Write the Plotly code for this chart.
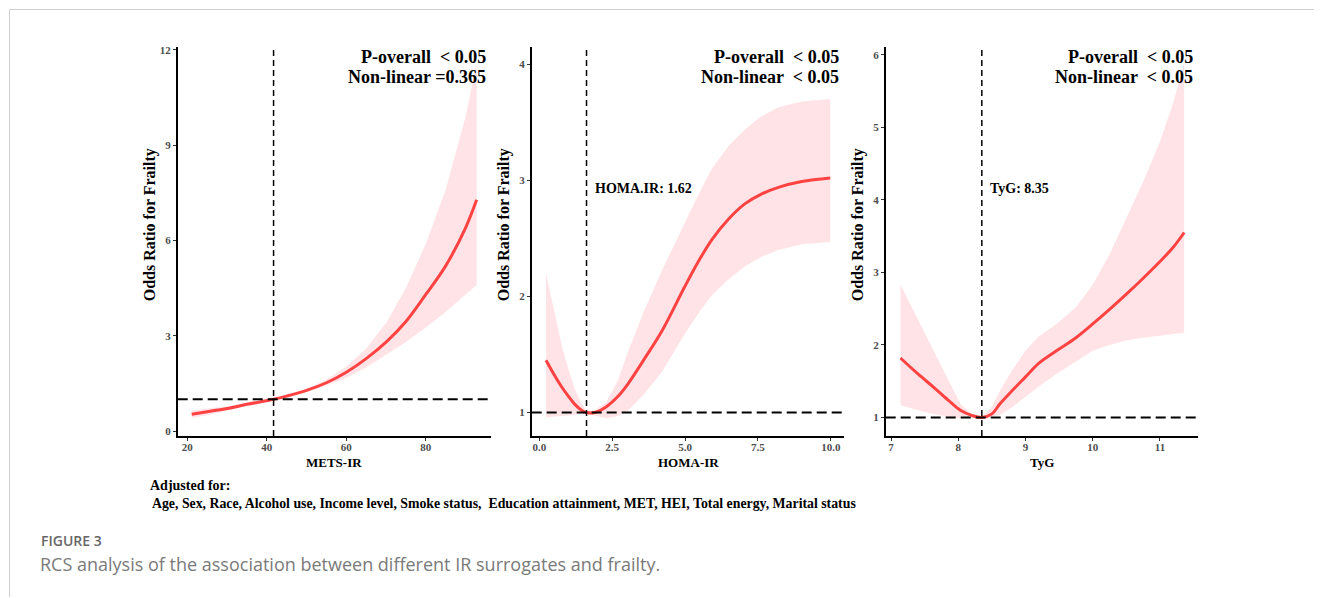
import plotly.graph_objects as go

# the page body has an 8px margin; the figure is sized so it ends at the window edge
OFF = 8
W, H = 1322 - OFF, 598 - OFF

# ---------------- data ----------------
mets_x = [21.1, 25, 30, 35, 41.7, 45, 50, 55, 60, 65, 70, 75, 80, 85, 90, 92.8]
mets_or = [0.53, 0.61, 0.71, 0.84, 1.0, 1.1, 1.28, 1.52, 1.85, 2.28, 2.8, 3.45, 4.3, 5.2, 6.4, 7.28]
mets_hi = [0.65, 0.70, 0.78, 0.88, 1.01, 1.12, 1.33, 1.62, 2.02, 2.6, 3.4, 4.5, 5.9, 7.6, 9.9, 11.6]
mets_lo = [0.42, 0.50, 0.63, 0.79, 0.99, 1.08, 1.23, 1.43, 1.68, 2.0, 2.4, 2.8, 3.26, 3.75, 4.3, 4.6]

homa_x = [0.23, 0.5, 0.77, 1.0, 1.22, 1.45, 1.62, 1.9, 2.3, 2.7, 3.05, 3.6, 4.2, 5.0, 5.5, 5.92, 6.5, 7.06, 7.6, 8.2, 9.0, 9.98]
homa_or = [1.45, 1.33, 1.22, 1.14, 1.07, 1.02, 1.0, 1.0, 1.05, 1.14, 1.25, 1.46, 1.70, 2.09, 2.32, 2.49, 2.67, 2.80, 2.88, 2.94, 2.99, 3.02]
homa_hi = [2.20, 1.88, 1.58, 1.37, 1.20, 1.08, 1.01, 1.02, 1.09, 1.28, 1.53, 1.88, 2.22, 2.64, 2.90, 3.10, 3.30, 3.44, 3.55, 3.63, 3.68, 3.70]
homa_lo = [0.96, 0.965, 0.97, 0.975, 0.98, 0.99, 0.99, 0.97, 0.95, 0.97, 1.02, 1.16, 1.35, 1.68, 1.87, 2.01, 2.15, 2.26, 2.34, 2.40, 2.45, 2.47]

tyg_x = [7.14, 7.4, 7.63, 7.85, 8.03, 8.2, 8.35, 8.5, 8.62, 8.8, 9.0, 9.2, 9.46, 9.75, 10.0, 10.25, 10.5, 10.75, 11.0, 11.2, 11.36]
tyg_or = [1.82, 1.60, 1.42, 1.24, 1.10, 1.03, 1.0, 1.05, 1.19, 1.37, 1.56, 1.75, 1.92, 2.10, 2.29, 2.49, 2.70, 2.92, 3.15, 3.35, 3.55]
tyg_hi = [2.83, 2.35, 1.92, 1.50, 1.19, 1.05, 1.0, 1.15, 1.37, 1.65, 1.92, 2.12, 2.29, 2.52, 2.83, 3.25, 3.74, 4.25, 4.80, 5.35, 5.89]
tyg_lo = [1.17, 1.10, 1.05, 1.01, 0.99, 0.99, 1.0, 1.01, 1.04, 1.14, 1.28, 1.43, 1.60, 1.77, 1.92, 2.00, 2.06, 2.10, 2.13, 2.15, 2.17]

x_titles = ["METS-IR", "HOMA-IR", "TyG"]
ref_values = [41.7, 1.62, 8.35]
ref_labels = [None, "HOMA.IR: 1.62", "TyG: 8.35"]
p_overall = ["P-overall  < 0.05", "P-overall  < 0.05", "P-overall  < 0.05"]
p_nonlinear = ["Non-linear =0.365", "Non-linear  < 0.05", "Non-linear  < 0.05"]

y_ticks = [[0, 3, 6, 9, 12], [1, 2, 3, 4], [1, 2, 3, 4, 5, 6]]
x_ticks = [[20, 40, 60, 80], [0, 2.5, 5, 7.5, 10], [7, 8, 9, 10, 11]]
x_ticklabels = [["20", "40", "60", "80"], ["0.0", "2.5", "5.0", "7.5", "10.0"], ["7", "8", "9", "10", "11"]]
y_ranges = [[-0.16, 12.1], [0.797, 4.151], [0.744, 6.11]]
x_ranges = [[17.58, 96.4], [-0.26, 10.46], [6.92, 11.57]]

adjusted_title = "Adjusted for:"
adjusted_text = "Age, Sex, Race, Alcohol use, Income level, Smoke status,  Education attainment, MET, HEI, Total energy, Marital status"
fig_label = "FIGURE 3"
fig_caption = "RCS analysis of the association between different IR surrogates and frailty."

series = [(mets_x, mets_or, mets_hi, mets_lo), (homa_x, homa_or, homa_hi, homa_lo), (tyg_x, tyg_or, tyg_hi, tyg_lo)]

# ---------------- layout geometry (window pixels) ----------------
panels_px = [(177.7, 491.0), (531.7, 844.3), (885.7, 1198.3)]
top_px, bot_px = 44, 436


def px(x):
    return (x - OFF) / W


def py(y):
    return 1 - (y - OFF) / H


SERIF = "Liberation Serif"
LINE_RED = "#FF4242"
BAND = "#FFE3E6"

fig = go.Figure()
layout_axes = {}
shapes = []
annotations = []

for i, (xs, ors, his, los) in enumerate(series):
    n = "" if i == 0 else str(i + 1)
    xa, ya = "x" + n, "y" + n
    fig.add_trace(go.Scatter(x=xs + xs[::-1], y=his + los[::-1], fill="toself", fillcolor=BAND,
                             line=dict(width=0), mode="lines", hoverinfo="skip", xaxis=xa, yaxis=ya,
                             showlegend=False))
    fig.add_trace(go.Scatter(x=xs, y=ors, mode="lines", line=dict(color=LINE_RED, width=3, shape="spline"),
                             xaxis=xa, yaxis=ya, showlegend=False))
    l, r = panels_px[i]
    common = dict(showline=True, linecolor="black", linewidth=1.5, ticks="outside", ticklen=3,
                  tickcolor="#333333", tickwidth=1, showgrid=False, zeroline=False,
                  tickfont=dict(family=SERIF, size=11, color="#4D4D4D", weight="bold"))
    layout_axes["xaxis" + n] = dict(domain=[px(l), px(r)], anchor=ya, range=x_ranges[i],
                                    tickvals=x_ticks[i], ticktext=x_ticklabels[i],
                                    ticklabelstandoff=-3, **common)
    layout_axes["yaxis" + n] = dict(domain=[py(bot_px), py(top_px)], anchor=xa, range=y_ranges[i],
                                    tickvals=y_ticks[i], **common)
    # reference lines
    shapes.append(dict(type="line", xref=xa + " domain", yref=ya, x0=0, x1=1, y0=1, y1=1,
                       line=dict(color="black", width=2, dash="10px,5px"), layer="above"))
    shapes.append(dict(type="line", xref=xa, yref=ya + " domain", x0=ref_values[i], x1=ref_values[i],
                       y0=0, y1=1, line=dict(color="black", width=1.5, dash="6px,4px"), layer="above"))
    # p texts
    right = r - 3
    annotations.append(dict(xref="paper", yref="paper", x=px(right), y=py(54), xanchor="right",
                            yanchor="middle", text=p_overall[i], showarrow=False,
                            font=dict(family=SERIF, size=18, color="black", weight="bold")))
    annotations.append(dict(xref="paper", yref="paper", x=px(right), y=py(74), xanchor="right",
                            yanchor="middle", text=p_nonlinear[i], showarrow=False,
                            font=dict(family=SERIF, size=18, color="black", weight="bold")))
    if ref_labels[i]:
        annotations.append(dict(xref=xa, yref="paper", x=ref_values[i], xshift=6, y=py(187), xanchor="left",
                                yanchor="middle", text=ref_labels[i], showarrow=False,
                                font=dict(family=SERIF, size=14, color="black", weight="bold")))
    # axis titles
    annotations.append(dict(xref="paper", yref="paper", x=px((l + r) / 2), y=py(463), xanchor="center",
                            yanchor="middle", text=x_titles[i], showarrow=False,
                            font=dict(family=SERIF, size=13, color="black", weight="bold")))
    annotations.append(dict(xref="paper", yref="paper", x=px(l - 28), y=py(223), xanchor="center",
                            yanchor="middle", text="Odds Ratio for Frailty", textangle=-90, showarrow=False,
                            font=dict(family=SERIF, size=16, color="black", weight="bold")))

# bottom texts
annotations.append(dict(xref="paper", yref="paper", x=px(148), y=py(486), xanchor="left", yanchor="middle",
                        text=adjusted_title, showarrow=False,
                        font=dict(family=SERIF, size=14, color="black", weight="bold")))
annotations.append(dict(xref="paper", yref="paper", x=px(150), y=py(504), xanchor="left", yanchor="middle",
                        text=adjusted_text, showarrow=False,
                        font=dict(family=SERIF, size=13.8, color="black", weight="bold")))
annotations.append(dict(xref="paper", yref="paper", x=px(39), y=py(541), xanchor="left", yanchor="middle",
                        text=fig_label, showarrow=False,
                        font=dict(family="Open Sans", size=14, color="#666666", weight=600)))
annotations.append(dict(xref="paper", yref="paper", x=px(38), y=py(565), xanchor="left", yanchor="middle",
                        text=fig_caption, showarrow=False,
                        font=dict(family="Open Sans", size=18, color="#7A7A7A")))

# page frame
shapes.append(dict(type="line", xref="paper", yref="paper", x0=px(9.5), x1=1, y0=py(6.5), y1=py(6.5),
                   line=dict(color="#CFCFCF", width=1)))
shapes.append(dict(type="line", xref="paper", yref="paper", x0=px(9.5), x1=px(9.5), y0=py(6.5), y1=0,
                   line=dict(color="#CFCFCF", width=1)))

fig.update_layout(width=W, height=H, margin=dict(l=0, r=0, t=0, b=0), plot_bgcolor="white",
                  paper_bgcolor="white", shapes=shapes, annotations=annotations, showlegend=False,
                  **layout_axes)

fig.write_html("out.html")
